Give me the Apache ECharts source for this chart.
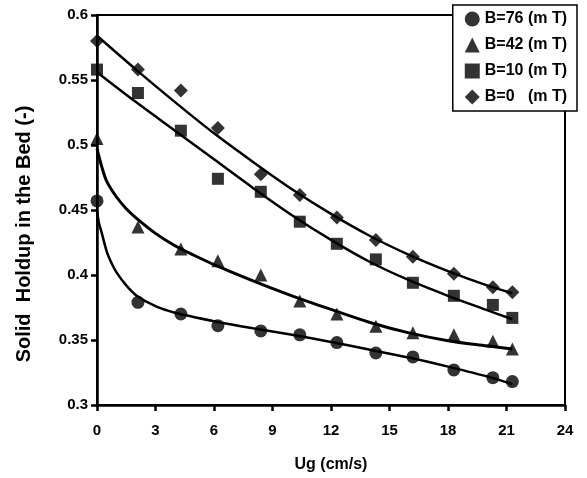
<!DOCTYPE html>
<html>
<head>
<meta charset="utf-8">
<script src="https://cdn.jsdelivr.net/npm/echarts@6/dist/echarts.min.js"></script>
<style>
html,body{margin:0;padding:0;background:#fff;}
#chart{width:587px;height:478px;}
</style>
</head>
<body>
<div id="chart"></div>
<script>
// Measured data (Ug in cm/s, solid holdup)
const ug = [0, 2.1, 4.3, 6.2, 8.4, 10.4, 12.3, 14.3, 16.2, 18.3, 20.3, 21.3];
const holdupB76 = [0.457, 0.379, 0.370, 0.361, 0.357, 0.354, 0.348, 0.340, 0.337, 0.327, 0.321, 0.318];
const holdupB42 = [0.505, 0.437, 0.420, 0.411, 0.400, 0.380, 0.370, 0.3605, 0.3555, 0.354, 0.349, 0.343];
const holdupB10 = [0.558, 0.540, 0.511, 0.474, 0.464, 0.441, 0.424, 0.412, 0.394, 0.384, 0.377, 0.367];
const holdupB0  = [0.580, 0.558, 0.542, 0.513, 0.4775, 0.4616, 0.4443, 0.427, 0.414, 0.401, 0.3906, 0.3868];

// Fitted curves
const fitX0  = [0, 2, 4, 6, 8, 10, 12, 14, 16, 18, 20, 21.3];
const fitB0  = [0.584, 0.558, 0.533, 0.509, 0.487, 0.466, 0.447, 0.430, 0.4155, 0.403, 0.392, 0.386];
const fitB10 = [0.556, 0.533, 0.511, 0.489, 0.467, 0.446, 0.427, 0.410, 0.396, 0.384, 0.373, 0.366];
const fitX42 = [0, 0.25, 0.5, 1, 1.5, 2, 3, 4, 5, 6, 8, 10, 12, 14, 16, 18, 20, 21.3];
const fitB42 = [0.497, 0.483, 0.472, 0.460, 0.451, 0.444, 0.432, 0.4225, 0.415, 0.408, 0.3955, 0.384, 0.3735, 0.3635, 0.3555, 0.3495, 0.3455, 0.343];
const fitX76 = [0, 0.1, 0.25, 0.5, 0.75, 1, 1.5, 2, 3, 4, 6, 8, 10, 12, 14, 16, 18, 20, 21.3];
const fitB76 = [0.4495, 0.440, 0.432, 0.418, 0.409, 0.402, 0.392, 0.3845, 0.376, 0.371, 0.3645, 0.359, 0.354, 0.3485, 0.3425, 0.3365, 0.3295, 0.322, 0.316];

const xTicks = [0, 3, 6, 9, 12, 15, 18, 21, 24];
const yTicks = [0.3, 0.35, 0.4, 0.45, 0.5, 0.55, 0.6];

const seriesNames = ['B=76 (m T)', 'B=42 (m T)', 'B=10 (m T)', 'B=0   (m T)'];
const xTitle = 'Ug (cm/s)';
const yTitle = 'Solid  Holdup in the Bed (-)';

function pairs(xs, ys) { return xs.map((x, i) => [x, ys[i]]); }

const FONT = 'Liberation Sans, Arial, sans-serif';
const chart = echarts.init(document.getElementById('chart'), null, {renderer: 'canvas'});

function lineSeries(name, xs, ys, w) {
  return {
    name: name, type: 'line', data: pairs(xs, ys), smooth: 0.3, showSymbol: false,
    symbol: 'none', lineStyle: {color: '#000', width: w}, silent: true, z: 2
  };
}
function scatterSeries(name, ys, symbol, size) {
  return {
    name: name, type: 'scatter', data: pairs(ug, ys), symbol: symbol, symbolSize: size,
    itemStyle: {color: '#000'}, z: 3
  };
}

chart.setOption({
  animation: false,
  backgroundColor: '#fff',
  grid: {left: 97, right: 22, top: 15, bottom: 71, show: true, borderColor: '#000', borderWidth: 2, backgroundColor: 'transparent'},
  graphic: [{
    type: 'text', x: 24, y: 234, rotation: Math.PI / 2,
    style: {text: yTitle, fontFamily: FONT, fontWeight: 'bold', fontSize: 20, fill: '#000',
      textAlign: 'center', textVerticalAlign: 'middle'}
  }],
  xAxis: {
    type: 'value', min: 0, max: 24, interval: 3,
    name: xTitle, nameLocation: 'middle', nameGap: 52,
    nameTextStyle: {fontFamily: FONT, fontWeight: 'bold', fontSize: 16, color: '#000'},
    axisLine: {show: true, onZero: false, lineStyle: {color: '#000', width: 2.5}},
    axisTick: {show: true, length: 6, lineStyle: {color: '#000', width: 2.5}},
    axisLabel: {fontFamily: FONT, fontWeight: 'bold', fontSize: 15, color: '#000', margin: 18,
      formatter: v => xTicks.includes(v) ? String(v) : ''},
    splitLine: {show: false}
  },
  yAxis: {
    type: 'value', min: 0.3, max: 0.6, interval: 0.05,
    axisLine: {show: true, onZero: false, lineStyle: {color: '#000', width: 2.5}},
    axisTick: {show: true, length: 6, lineStyle: {color: '#000', width: 2.5}},
    axisLabel: {fontFamily: FONT, fontWeight: 'bold', fontSize: 15, color: '#000', margin: 9,
      formatter: v => { const t = yTicks.find(k => Math.abs(k - v) < 1e-9); return t === undefined ? '' : String(t); }},
    splitLine: {show: false}
  },
  legend: {
    data: seriesNames,
    orient: 'vertical', right: 10, top: 5,
    itemWidth: 15, itemHeight: 15, itemGap: 10,
    padding: [6, 10, 6, 12],
    backgroundColor: '#fff', borderColor: '#000', borderWidth: 1.5,
    textStyle: {fontFamily: FONT, fontWeight: 'bold', fontSize: 16, color: '#000'}
  },
  series: [
    lineSeries('fit76', fitX76, fitB76, 2.5),
    lineSeries('fit42', fitX42, fitB42, 3),
    lineSeries('fit10', fitX0, fitB10, 2.5),
    lineSeries('fit0', fitX0, fitB0, 2.5),
    scatterSeries(seriesNames[0], holdupB76, 'circle', 13),
    scatterSeries(seriesNames[1], holdupB42, 'triangle', 13),
    scatterSeries(seriesNames[2], holdupB10, 'rect', 12),
    scatterSeries(seriesNames[3], holdupB0, 'diamond', 14)
  ]
});
</script>
</body>
</html>
